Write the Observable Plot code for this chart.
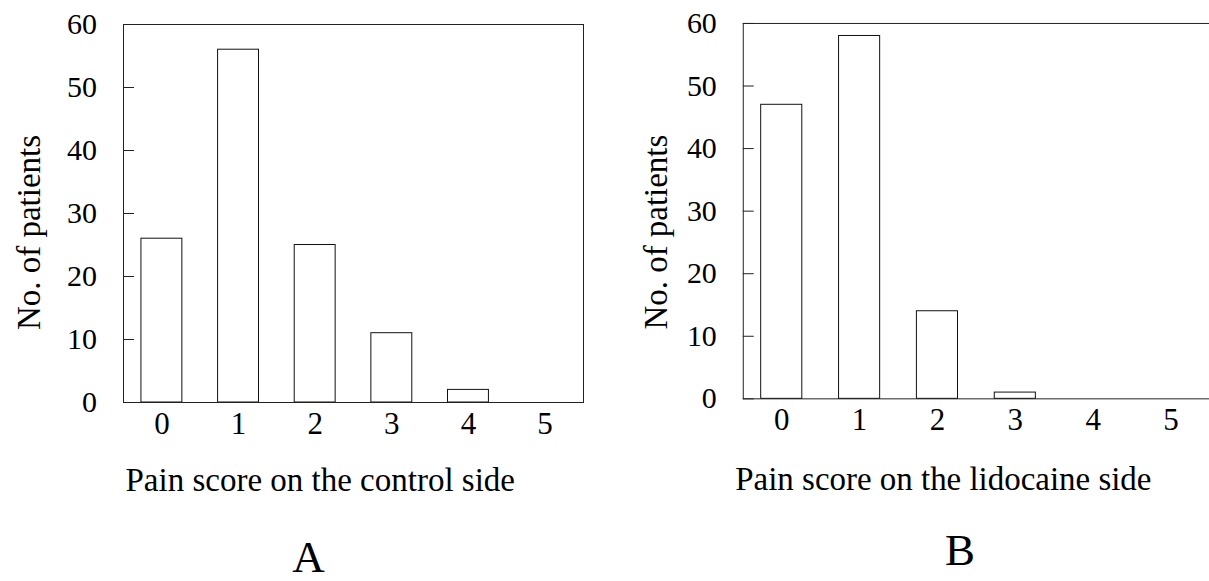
<!DOCTYPE html>
<html>
<head>
<meta charset="utf-8">
<script src="https://cdn.jsdelivr.net/npm/d3@7"></script>
<script src="https://cdn.jsdelivr.net/npm/@observablehq/plot@0.6"></script>
<style>
  html, body { margin: 0; padding: 0; background: #fff; }
  body { width: 1209px; height: 581px; overflow: hidden; position: relative; }
  .panel { position: absolute; top: 0; }
</style>
</head>
<body>
<div id="panelA" class="panel" style="left:0px"></div>
<div id="panelB" class="panel" style="left:604px"></div>
<script>
// ---- data ----
const scores = [0, 1, 2, 3, 4, 5];
const controlCounts = [26, 56, 25, 11, 2, 0];
const lidocaineCounts = [47, 58, 14, 1, 0, 0];
const yTicks = [0, 10, 20, 30, 40, 50, 60];
const yTitle = "No. of patients";
const xTitleA = "Pain score on the control side";
const xTitleB = "Pain score on the lidocaine side";
const panelLabelA = "A";
const panelLabelB = "B";

function makePanel(counts, xTitle, panelLabel, cfg) {
  const data = scores.map((s, i) => ({score: s, count: counts[i]}));
  return Plot.plot({
    width: cfg.width,
    height: 581,
    marginLeft: cfg.marginLeft,
    marginRight: cfg.marginRight,
    marginTop: cfg.marginTop,
    marginBottom: cfg.marginBottom,
    style: {fontFamily: "'Liberation Serif', 'Times New Roman', serif", fontSize: "30px", background: "white", overflow: "visible", color: "#000"},
    x: {type: "band", domain: scores, paddingInner: cfg.pi, paddingOuter: cfg.po, round: false, axis: null},
    y: {domain: [0, 60], axis: null},
    marks: [
      Plot.barY(data, {x: "score", y: "count", fill: "white", stroke: "#111", strokeWidth: 1}),
      Plot.frame({stroke: "#222", strokeWidth: 1}),
      Plot.axisY({ticks: yTicks, tickSize: -11, tickPadding: 37.5, stroke: "#222", label: null, fontSize: 30}),
      Plot.axisX({tickSize: 0, tickPadding: 9, label: null, fontSize: 31}),
      Plot.text([xTitle], {text: d => d, frameAnchor: "bottom-left", textAnchor: "start", lineAnchor: "bottom", dx: cfg.xtDx, dy: cfg.xtDy, fontSize: 33}),
      Plot.text([yTitle], {text: d => d, frameAnchor: "left", rotate: -90, textAnchor: "middle", lineAnchor: "bottom", dx: cfg.ytDx, dy: cfg.ytDy, fontSize: 33}),
      Plot.text([panelLabel], {text: d => d, frameAnchor: "bottom-left", textAnchor: "middle", lineAnchor: "bottom", dx: cfg.plDx, dy: cfg.plDy, fontSize: 45})
    ]
  });
}

document.getElementById("panelA").appendChild(makePanel(controlCounts, xTitleA, panelLabelA, {
  width: 604, marginLeft: 123, marginRight: 21, marginTop: 24, marginBottom: 179,
  pi: 0.466, po: 0.234,
  xtDx: 2, xtDy: 88, ytDx: -84, ytDy: 19, plDx: 185, plDy: 169
}));
document.getElementById("panelB").appendChild(makePanel(lidocaineCounts, xTitleB, panelLabelB, {
  width: 606, marginLeft: 139, marginRight: 0, marginTop: 23, marginBottom: 182,
  pi: 0.472, po: 0.23,
  xtDx: -8, xtDy: 91, ytDx: -76, ytDy: 21, plDx: 217, plDy: 166
}));
</script>
</body>
</html>
